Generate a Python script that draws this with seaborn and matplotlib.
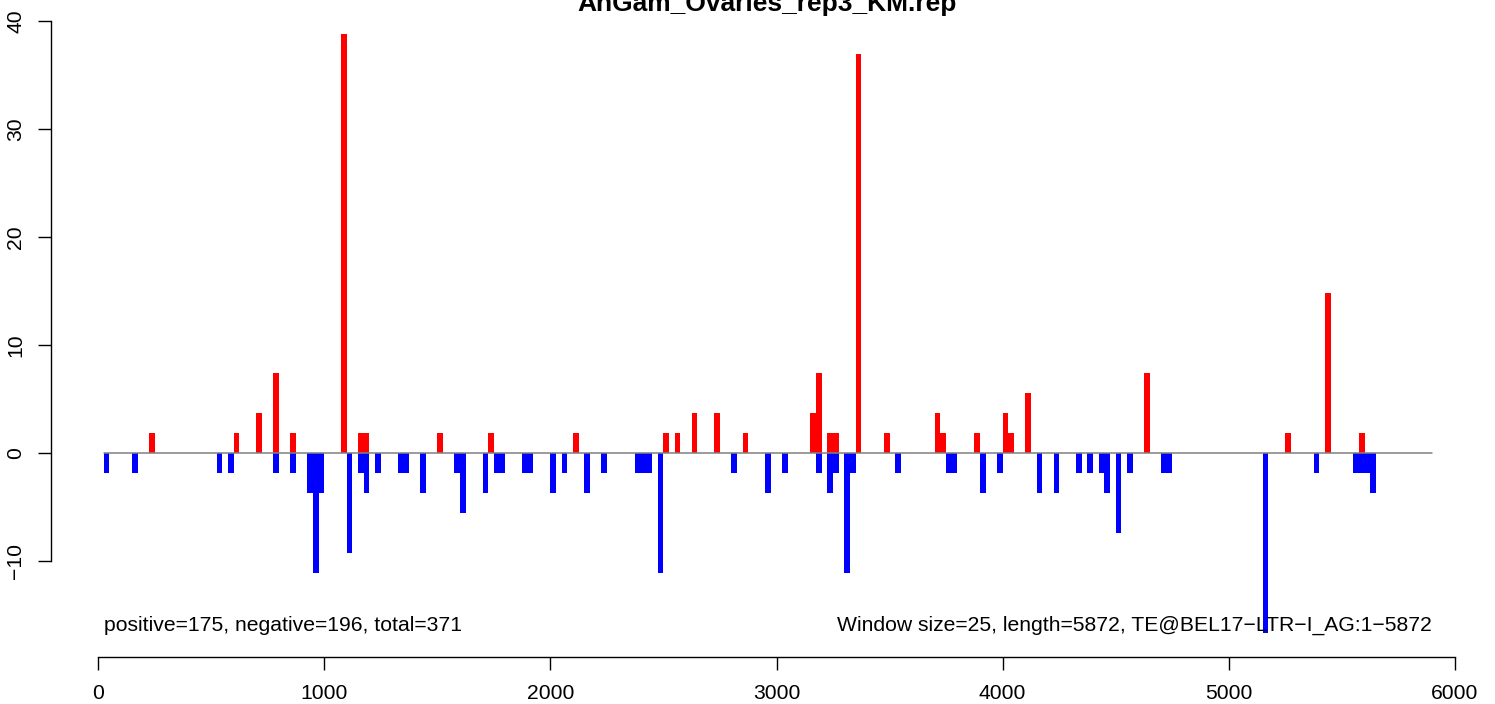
import numpy as np
import pandas as pd
import seaborn as sns
import matplotlib.pyplot as plt

# window/track info
WINDOW = 25
LENGTH = 5872
TITLE = "AnGam_Ovaries_rep3_KM.rep"
N_POS, N_NEG, N_TOTAL = 175, 196, 371
TE_NAME = "TE@BEL17\u2212LTR\u2212I_AG:1\u22125872"

# window start positions and normalized signal, sense (red) strand
pos_start = [225, 600, 700, 775, 850, 1075, 1150, 1175, 1500, 1725, 2100, 2500,
             2550, 2625, 2725, 2850, 3150, 3175, 3225, 3250, 3350, 3475, 3700,
             3725, 3875, 4000, 4025, 4100, 4625, 5250, 5425, 5575]
pos_vals = [1.85, 1.85, 3.7, 7.4, 1.85, 38.85, 1.85, 1.85, 1.85, 1.85, 1.85, 1.85,
            1.85, 3.7, 3.7, 1.85, 3.7, 7.4, 1.85, 1.85, 37.0, 1.85, 3.7,
            1.85, 1.85, 3.7, 1.85, 5.55, 7.4, 1.85, 14.8, 1.85]

# antisense (blue) strand
neg_start = [25, 150, 525, 575, 775, 850, 925, 950, 975, 1100, 1150, 1175, 1225,
             1325, 1350, 1425, 1575, 1600, 1700, 1750, 1775, 1875, 1900, 2000,
             2050, 2150, 2225, 2375, 2400, 2425, 2475, 2800, 2950, 3025, 3175,
             3225, 3250, 3300, 3325, 3525, 3750, 3775, 3900, 3975, 4150, 4225,
             4325, 4375, 4425, 4450, 4500, 4550, 4700, 4725, 5150, 5375, 5550,
             5575, 5600, 5625]
neg_vals = [-1.85, -1.85, -1.85, -1.85, -1.85, -1.85, -3.7, -11.1, -3.7, -9.25,
            -1.85, -3.7, -1.85, -1.85, -1.85, -3.7, -1.85, -5.55, -3.7, -1.85,
            -1.85, -1.85, -1.85, -3.7, -1.85, -3.7, -1.85, -1.85, -1.85, -1.85,
            -11.1, -1.85, -3.7, -1.85, -1.85, -3.7, -1.85, -11.1, -1.85, -1.85,
            -1.85, -1.85, -3.7, -1.85, -3.7, -3.7, -1.85, -1.85, -1.85, -3.7,
            -7.4, -1.85, -1.85, -1.85, -16.65, -1.85, -1.85, -1.85, -1.85, -3.7]

x_ticks = [0, 1000, 2000, 3000, 4000, 5000, 6000]
y_ticks = [-10, 0, 10, 20, 30, 40]

sns.set_style("white")
plt.rcParams["font.family"] = ["Liberation Sans", "DejaVu Sans"]
plt.rcParams["text.color"] = "black"
plt.rcParams["xtick.color"] = "black"
plt.rcParams["ytick.color"] = "black"

FS = 15.2

df_pos = pd.DataFrame({"pos": np.array(pos_start) + WINDOW / 2, "val": pos_vals})
df_neg = pd.DataFrame({"pos": np.array(neg_start) + WINDOW / 2, "val": neg_vals})

fig = plt.figure(figsize=(14.95, 7.04), dpi=100)
ax = fig.add_axes([51 / 1495, 46.9 / 704, 1426.6 / 1495, 647.4 / 704])

sns.barplot(data=df_pos, x="pos", y="val", native_scale=True, color="#FF0000",
            saturation=1, width=1, linewidth=0, errorbar=None, ax=ax)
sns.barplot(data=df_neg, x="pos", y="val", native_scale=True, color="#0000FF",
            saturation=1, width=1, linewidth=0, errorbar=None, ax=ax)

# zero line across the element
ax.plot([WINDOW, LENGTH + WINDOW], [0, 0], color="#808080", lw=1.1, zorder=5)

ax.set_xlim(-208, 6100)
ax.set_ylim(-18.87, 41.07)
ax.set_xlabel("")
ax.set_ylabel("")

# R-like axes
for s in ["top", "right"]:
    ax.spines[s].set_visible(False)
for s in ["bottom", "left"]:
    ax.spines[s].set_linewidth(1.0)
    ax.spines[s].set_color("black")
ax.spines["bottom"].set_bounds(x_ticks[0], x_ticks[-1])
ax.spines["left"].set_bounds(y_ticks[0], y_ticks[-1])
ax.set_xticks(x_ticks)
ax.set_xticklabels([str(t) for t in x_ticks])
ax.set_yticks(y_ticks)
ax.set_yticklabels([str(t).replace("-", "\u2212") for t in y_ticks])
ax.tick_params(axis="both", direction="out", length=9.5, width=1.0,
               color="black", labelcolor="black", labelsize=FS,
               bottom=True, left=True)
ax.tick_params(axis="x", pad=10)
ax.tick_params(axis="y", pad=9, labelrotation=90)
for lab in ax.get_yticklabels():
    lab.set_va("center")

ax.text(WINDOW, -15.9, f"positive={N_POS}, negative={N_NEG}, total={N_TOTAL}",
        ha="left", va="center", fontsize=FS, color="black")
ax.text(LENGTH + WINDOW, -15.9,
        f"Window size={WINDOW}, length={LENGTH}, {TE_NAME}",
        ha="right", va="center", fontsize=FS, color="black")

fig.text(767 / 1495, 693 / 704, TITLE, ha="center", va="baseline",
         fontsize=19, fontweight="bold", color="black")

fig.savefig("out.png", dpi=100)
